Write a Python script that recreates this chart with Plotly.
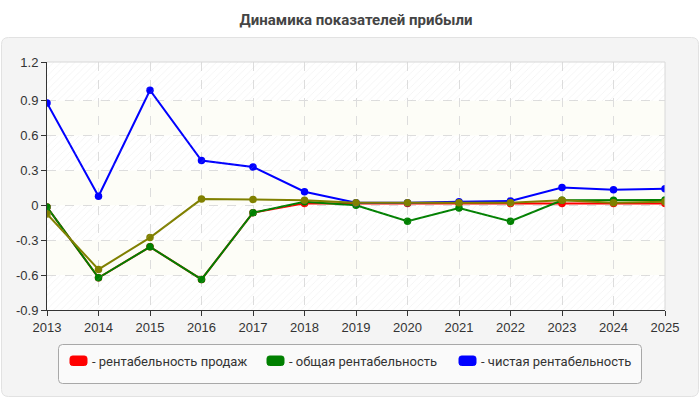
import plotly.graph_objects as go

# ---------------- data ----------------
years = [2013, 2014, 2015, 2016, 2017, 2018, 2019, 2020, 2021, 2022, 2023, 2024, 2025]
series_names = ["рентабельность продаж", "общая рентабельность", "чистая рентабельность"]
sales_profitability = [-0.014, -0.623, -0.357, -0.637, -0.063, 0.017, 0.015, 0.015, 0.015, 0.015, 0.015, 0.015, 0.015]
total_profitability = [-0.014, -0.623, -0.357, -0.637, -0.063, 0.031, 0.0, -0.137, -0.023, -0.137, 0.043, 0.043, 0.046]
net_profitability = [0.88, 0.078, 0.99, 0.386, 0.33, 0.117, 0.023, 0.023, 0.03, 0.037, 0.154, 0.134, 0.143]
extra_series = [-0.074, -0.551, -0.277, 0.054, 0.051, 0.043, 0.023, 0.023, 0.023, 0.023, 0.043, 0.023, 0.03]
y_tick_vals = [-0.9, -0.6, -0.3, 0, 0.3, 0.6, 0.9, 1.233]
y_tick_text = ["-0.9", "-0.6", "-0.3", "0", "0.3", "0.6", "0.9", "1.2"]
y_range = [-0.9, 1.233]

colors = ["#ff0000", "#008000", "#0000ff"]
extra_color = "#808000"

W, H = 700, 400
ML, MR, MT, MB = 47, 35, 62, 90
PW, PH = W - ML - MR, H - MT - MB


def px(x):
    return (x - ML) / PW


def py(y):
    return (H - MB - y) / PH


def rrect(x0, y0, x1, y1, r):
    X0, X1 = px(x0), px(x1)
    Y0, Y1 = py(y0), py(y1)
    rx, ry = r / PW, r / PH
    return (f"M{X0+rx},{Y0} L{X1-rx},{Y0} Q{X1},{Y0} {X1},{Y0-ry} "
            f"L{X1},{Y1+ry} Q{X1},{Y1} {X1-rx},{Y1} L{X0+rx},{Y1} "
            f"Q{X0},{Y1} {X0},{Y1+ry} L{X0},{Y0-ry} Q{X0},{Y0} {X0+rx},{Y0} Z")


fig = go.Figure()

# hatched background bands (decoration)
hatch_bands = [(0.9, y_range[1]), (0.3, 0.6), (-0.3, 0.0), (-0.9, -0.6)]
for b0, b1 in hatch_bands:
    fig.add_trace(go.Bar(
        x=[0.5], y=[b1 - b0], base=[b0], width=[1], xaxis="x2", yaxis="y",
        marker=dict(color="rgba(0,0,0,0)", line=dict(width=0),
                    pattern=dict(shape="/", fgcolor="rgba(200,200,200,0.45)",
                                 bgcolor="rgba(0,0,0,0)", size=5, solidity=0.15)),
        showlegend=False, hoverinfo="skip"))

series_values = [sales_profitability, total_profitability, net_profitability]
for name, vals, col in zip(series_names, series_values, colors):
    fig.add_trace(go.Scatter(
        x=years, y=vals, mode="lines+markers", name=name,
        line=dict(color=col, width=2), marker=dict(color=col, size=7.5),
        showlegend=False))
fig.add_trace(go.Scatter(
    x=years, y=extra_series, mode="lines+markers", name="",
    line=dict(color=extra_color, width=2), marker=dict(color=extra_color, size=7.5),
    showlegend=False))

shapes = []
# outer panel
shapes.append(dict(type="path", xref="paper", yref="paper", path=rrect(1.5, 37.5, 698.5, 396.5, 7),
                   fillcolor="#f4f4f4", line=dict(color="#e2e2e2", width=1), layer="below"))
# plot area white
shapes.append(dict(type="rect", xref="paper", yref="paper", x0=0, x1=1, y0=0, y1=1,
                   fillcolor="#ffffff", line=dict(width=0), layer="below"))
# ivory bands
for b0, b1 in [(0.6, 0.9), (0.0, 0.3), (-0.6, -0.3)]:
    shapes.append(dict(type="rect", xref="paper", yref="y", x0=0, x1=1, y0=b0, y1=b1,
                       fillcolor="#fdfdf7", line=dict(width=0), layer="below"))
# top and right borders
shapes.append(dict(type="line", xref="paper", yref="paper", x0=0, x1=1, y0=1, y1=1,
                   line=dict(color="#d8d8d8", width=1)))
shapes.append(dict(type="line", xref="paper", yref="paper", x0=1, x1=1, y0=0, y1=1,
                   line=dict(color="#d8d8d8", width=1)))
# legend box
shapes.append(dict(type="path", xref="paper", yref="paper", path=rrect(58.5, 344.5, 641.5, 383.5, 4),
                   fillcolor="#fafafa", line=dict(color="#a8a8a8", width=1)))

annotations = []
legend_x = [70, 267, 459]
for lx, name, col in zip(legend_x, series_names, colors):
    shapes.append(dict(type="path", xref="paper", yref="paper", path=rrect(lx, 356, lx + 17, 365.5, 2.5),
                       fillcolor=col, line=dict(color=col, width=1)))
    annotations.append(dict(xref="paper", yref="paper", x=px(lx + 20), y=py(361), text="- " + name,
                            showarrow=False, xanchor="left", yanchor="middle",
                            font=dict(family="Roboto", size=13, color="#333333")))

fig.update_layout(
    width=W, height=H,
    margin=dict(l=ML, r=MR, t=MT, b=MB),
    paper_bgcolor="#ffffff", plot_bgcolor="rgba(0,0,0,0)",
    title=dict(text="<b>Динамика показателей прибыли</b>", x=0.5, xref="paper", xanchor="center",
               y=1 - 20 / H, yref="container", yanchor="middle",
               font=dict(family="Roboto", size=15, color="#444444")),
    font=dict(family="Liberation Sans", size=13, color="#333333"),
    barmode="overlay", bargap=0,
    xaxis=dict(range=[2013, 2025], tickvals=years, ticktext=[str(y) for y in years],
               showgrid=True, gridcolor="#dddddd", griddash="dash", gridwidth=1,
               showline=True, linecolor="#333333", linewidth=1,
               ticks="outside", ticklen=5, tickcolor="#333333", zeroline=False,
               tickfont=dict(family="Liberation Sans", size=13, color="#333333")),
    xaxis2=dict(overlaying="x", range=[0, 1], visible=False),
    yaxis=dict(range=y_range, tickvals=y_tick_vals, ticktext=y_tick_text,
               showgrid=True, gridcolor="#dddddd", griddash="dash", gridwidth=1,
               showline=True, linecolor="#333333", linewidth=1,
               ticks="outside", ticklen=5, tickcolor="#333333", zeroline=False,
               tickfont=dict(family="Liberation Sans", size=13, color="#333333")),
    shapes=shapes, annotations=annotations, showlegend=False,
)

fig.write_html("out.html")
